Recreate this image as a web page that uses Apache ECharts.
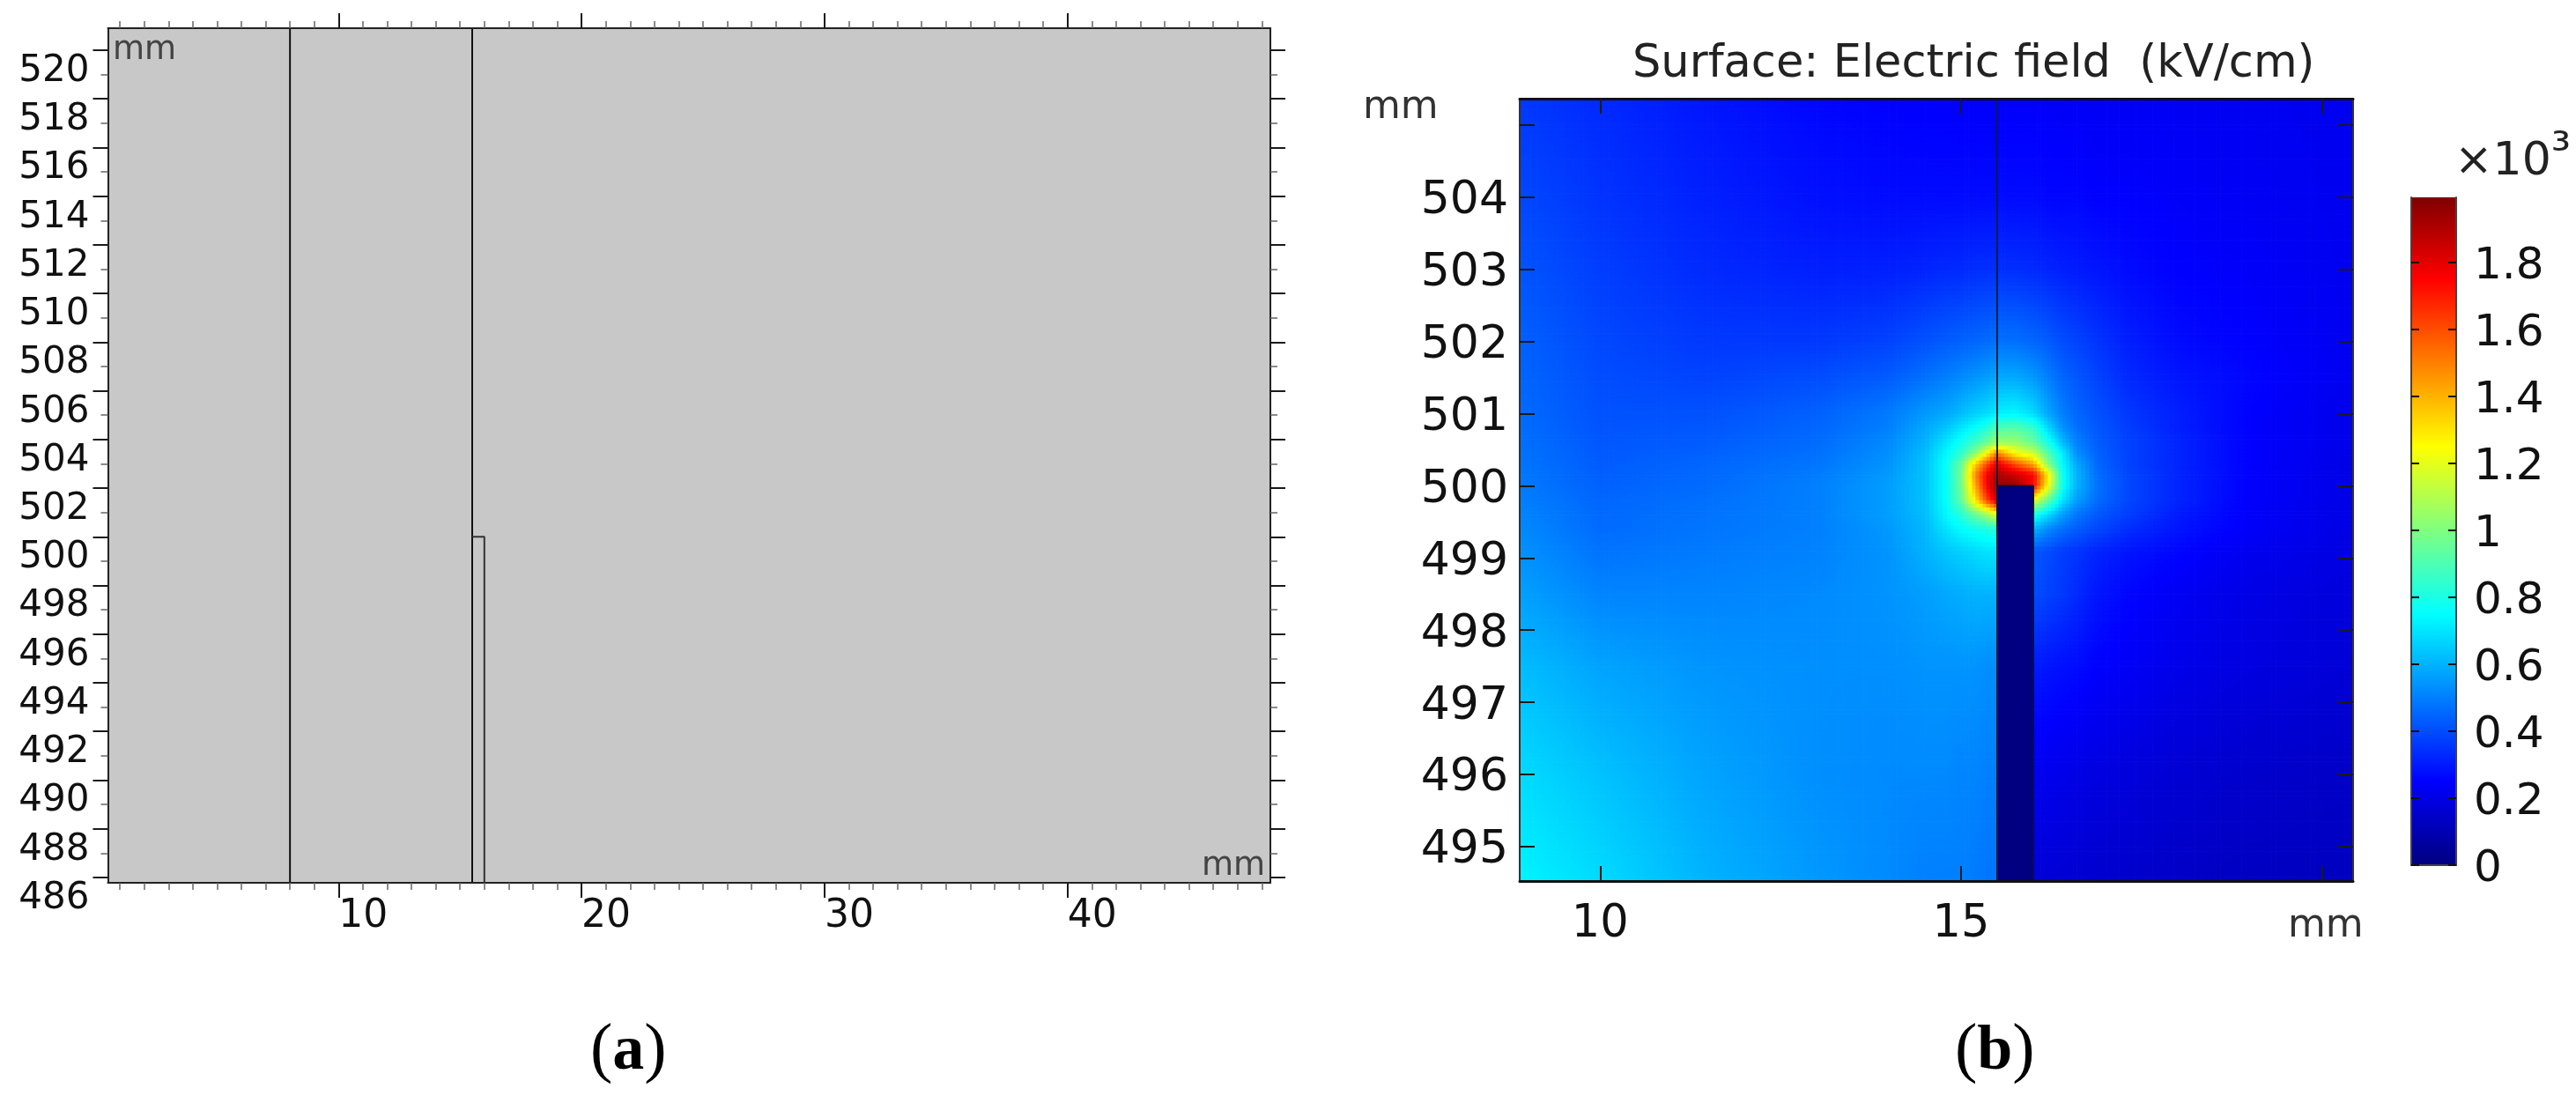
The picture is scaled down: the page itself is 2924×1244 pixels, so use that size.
<!DOCTYPE html>
<html><head><meta charset="utf-8">
<style>html,body{margin:0;padding:0;background:#fff}#c{width:2924px;height:1244px}</style>
<script src="https://cdn.jsdelivr.net/npm/echarts@6/dist/echarts.min.js"></script>
</head><body><div id="c"></div>
<script>
// ---------- data ----------
const aXRange = [0.507, 48.35];
const aYRange = [485.78, 520.905];
const aXMajor = [10, 20, 30, 40];
const aXMinor = [1,2,3,4,5,6,7,8,9,11,12,13,14,15,16,17,18,19,21,22,23,24,25,26,27,28,29,31,32,33,34,35,36,37,38,39,41,42,43,44,45,46,47,48];
const aYMajor = [486,488,490,492,494,496,498,500,502,504,506,508,510,512,514,516,518,520];
const aYMinor = [487,489,491,493,495,497,499,501,503,505,507,509,511,513,515,517,519];
const aLineOuter = [[8,485.78],[8,520.905]];
const aLineInner = [[15.5,485.78],[15.5,520.905]];
const aPinOutline = [[15.5,500],[16,500],[16,485.78]];

const bXRange = [8.886, 20.43];
const bYRange = [494.52, 505.368];
const bXTicks = [10, 15, 20];
const bXLabels = [10, 15];
const bYTicks = [495,496,497,498,499,500,501,502,503,504,505];
const bYLabels = [495,496,497,498,499,500,501,502,503,504];
const bWire = [[15.5,494.52],[15.5,505.368]];
const bPin = [[15.5,494.52],[15.5,500],[16,500],[16,494.52]];

// electric field (x10^3 kV/cm), read node by node off the surface plot
const fieldX = [8.886,10,11.5,13,14,14.5,14.8,15,15.2,15.35,15.5,15.75,16,16.2,16.4,16.6,16.9,17.3,18,19,20.43];
const fieldY = [505.368,504,503,502,501.5,501,500.8,500.6,500.45,500.3,500.15,500,499.8,499.6,499.4,499.1,498.5,497.5,496,494.52];
const fieldRows = [
[.36,.33,.29,.26,.25,.245,.245,.24,.24,.24,.24,.24,.24,.24,.235,.235,.23,.23,.23,.225,.22],
[.39,.35,.31,.28,.27,.27,.27,.27,.27,.27,.27,.27,.27,.26,.26,.26,.25,.25,.24,.23,.22],
[.415,.37,.33,.31,.31,.32,.33,.33,.34,.34,.34,.34,.33,.32,.31,.3,.29,.27,.25,.24,.22],
[.44,.39,.36,.36,.38,.41,.43,.44,.45,.46,.47,.47,.45,.43,.4,.38,.35,.31,.27,.25,.22],
[.45,.40,.38,.4,.43,.47,.5,.52,.54,.56,.58,.58,.55,.5,.45,.42,.38,.33,.29,.26,.22],
[.46,.41,.41,.44,.49,.55,.58,.62,.66,.68,.72,.74,.68,.58,.5,.45,.41,.36,.31,.25,.21],
[.465,.415,.42,.45,.5,.58,.64,.7,.76,.82,.9,.92,.85,.68,.54,.47,.42,.37,.31,.25,.21],
[.47,.42,.43,.46,.52,.6,.7,.78,.87,.95,1.05,1.05,.95,.8,.62,.5,.43,.38,.32,.25,.21],
[.475,.425,.44,.47,.53,.62,.74,.84,1.02,1.25,1.5,1.25,1.15,.92,.72,.53,.44,.38,.32,.25,.2],
[.48,.43,.45,.48,.54,.63,.76,.95,1.35,1.6,1.8,1.6,1.42,1.02,.75,.58,.45,.38,.32,.25,.2],
[.485,.435,.455,.49,.55,.63,.76,.97,1.48,1.75,1.92,1.85,1.75,1.3,.78,.6,.46,.39,.32,.25,.2],
[.49,.44,.46,.5,.56,.63,.76,.97,1.42,1.75,1.95,1.95,1.75,1.25,.78,.6,.47,.39,.32,.245,.2],
[.5,.45,.47,.5,.56,.63,.76,.94,1.3,1.6,1.85,1.5,1.2,.95,.7,.56,.46,.39,.32,.245,.2],
[.51,.455,.475,.5,.56,.62,.74,.82,.95,1.05,1.2,1.0,.8,.68,.56,.48,.42,.37,.3,.24,.2],
[.52,.46,.48,.5,.55,.61,.7,.75,.78,.8,.82,.7,.6,.52,.47,.43,.39,.34,.29,.24,.195],
[.535,.475,.49,.505,.54,.6,.64,.66,.68,.7,.7,.55,.42,.4,.37,.35,.32,.29,.26,.22,.19],
[.565,.51,.51,.52,.54,.56,.58,.59,.6,.6,.6,.5,.4,.38,.36,.33,.29,.26,.23,.2,.18],
[.62,.57,.54,.53,.53,.54,.54,.54,.54,.53,.53,.4,.3,.29,.28,.27,.25,.235,.21,.19,.17],
[.68,.63,.57,.53,.52,.52,.52,.51,.51,.5,.5,.3,.22,.215,.21,.2,.19,.18,.165,.15,.14],
[.73,.68,.6,.55,.52,.5,.5,.5,.49,.48,.48,.3,.17,.17,.165,.16,.155,.15,.14,.13,.125]
];

const barMax = 1.995;
const barTicks = [0,0.2,0.4,0.6,0.8,1,1.2,1.4,1.6,1.8];
const jetValues = [0,0.25,0.75,1.25,1.75,2];
const jetColors = [[0,0,128],[0,0,255],[0,255,255],[255,255,0],[255,0,0],[128,0,0]];

// ---------- helpers ----------
const DEJAVU = '"DejaVu Sans"';
const INK = '#1a1a1a';
function jet(v){
  v = Math.max(0, Math.min(2, v));
  let i = 0;
  while (i < jetValues.length-2 && v > jetValues[i+1]) i++;
  const t = (v-jetValues[i])/(jetValues[i+1]-jetValues[i]);
  const a = jetColors[i], b = jetColors[i+1];
  return 'rgb('+Math.round(a[0]+(b[0]-a[0])*t)+','+Math.round(a[1]+(b[1]-a[1])*t)+','+Math.round(a[2]+(b[2]-a[2])*t)+')';
}
function fieldCells(){
  const out = [];
  for (let r=0;r<fieldY.length-1;r++) for (let c=0;c<fieldX.length-1;c++)
    out.push([fieldX[c],fieldX[c+1],fieldY[r],fieldY[r+1],fieldRows[r][c],fieldRows[r][c+1],fieldRows[r+1][c],fieldRows[r+1][c+1]]);
  return out;
}
function renderCell(params, api){
  const p0 = api.coord([api.value(0),api.value(2)]);
  const p1 = api.coord([api.value(1),api.value(3)]);
  const v00=api.value(4), v10=api.value(5), v01=api.value(6), v11=api.value(7);
  const w=p1[0]-p0[0], h=p1[1]-p0[1];
  const nx=Math.max(1,Math.ceil(w/5)), ny=Math.max(1,Math.ceil(h/5));
  const children=[];
  for(let j=0;j<ny;j++) for(let i=0;i<nx;i++){
    const s=(i+.5)/nx, t=(j+.5)/ny;
    const v=v00*(1-s)*(1-t)+v10*s*(1-t)+v01*(1-s)*t+v11*s*t;
    children.push({type:'rect',silent:true,
      shape:{x:p0[0]+w*i/nx,y:p0[1]+h*j/ny,width:w/nx+.7,height:h/ny+.7},
      style:{fill:jet(v),stroke:null}});
  }
  return {type:'group',children};
}
const axisLine = {show:true,onZero:false,lineStyle:{color:'#222',width:2}};
function numAxis(kind, extra){
  const o = {type:'value',scale:true,splitLine:{show:false},animation:false,z:10};
  return Object.assign(o, extra);
}
function majorTicks(values, len, inside){
  return {show:true,inside:!!inside,length:len,customValues:values,lineStyle:{color:'#1a1a1a',width:2}};
}
function minorTicks(values){
  return {show:true,length:8,customValues:values,lineStyle:{color:'#666',width:1.5}};
}
const noLabel = {show:false};
function label(text,left,top,size,color){
  return {text,left,top,padding:0,textStyle:{fontFamily:DEJAVU,fontSize:size,fontWeight:'normal',color:color||INK}};
}
function part(letter,left){
  return {text:'{r|(}{b|'+letter+'}{r|)}',left,top:1156,padding:0,textStyle:{rich:{
    r:{fontFamily:'"Liberation Serif"',fontSize:76,fontWeight:'normal',color:'#000'},
    b:{fontFamily:'"Liberation Serif"',fontSize:72,fontWeight:'bold',color:'#000'}}}};
}

const A = {left:122.5,top:32,width:1319.5,height:970};
const B = {left:1725,top:112,width:946,height:888};
const C = {left:2737,top:224,width:51,height:757.7};

const option = {
  animation:false,
  backgroundColor:'#fff',
  title:[
    label('mm',128,39,37,'#444'),
    label('mm',1364,965,37,'#444'),
    label('Surface: Electric field  (kV/cm)',1853,48,51,'#222'),
    label('mm',1547,101,44,'#333'),
    label('mm',2597,1030,44,'#333'),
    {text:'{a|×10}{s|³}',left:2786,top:146,padding:0,textStyle:{rich:{
      a:{fontFamily:DEJAVU,fontSize:52,fontWeight:'normal',color:'#222'},
      s:{fontFamily:DEJAVU,fontSize:56,fontWeight:'normal',color:'#222',padding:[0,0,20,0]}}}},
    part('a',670),
    part('b',2219)
  ],
  grid:[
    Object.assign({show:true,backgroundColor:'#c8c8c8',borderWidth:0},A),
    Object.assign({show:false},A),
    Object.assign({show:false},B),
    Object.assign({show:false},C)
  ],
  xAxis:[
    numAxis('x',{gridIndex:0,position:'bottom',min:aXRange[0],max:aXRange[1],axisLine,axisTick:majorTicks(aXMajor,17),
      axisLabel:{show:true,customValues:aXMajor,align:'left',margin:17,fontFamily:DEJAVU,fontSize:44,color:'#111'}}),
    numAxis('x',{gridIndex:0,position:'top',min:aXRange[0],max:aXRange[1],axisLine,axisTick:majorTicks(aXMajor,17),axisLabel:noLabel}),
    numAxis('x',{gridIndex:1,position:'bottom',min:aXRange[0],max:aXRange[1],axisLine:{show:false},axisTick:minorTicks(aXMinor),axisLabel:noLabel}),
    numAxis('x',{gridIndex:1,position:'top',min:aXRange[0],max:aXRange[1],axisLine:{show:false},axisTick:minorTicks(aXMinor),axisLabel:noLabel}),
    numAxis('x',{gridIndex:2,position:'bottom',min:bXRange[0],max:bXRange[1],axisLine:{show:true,onZero:false,lineStyle:{color:'#111',width:3}},axisTick:majorTicks(bXTicks,17,true),
      axisLabel:{show:true,customValues:bXLabels,margin:24,fontFamily:DEJAVU,fontSize:51,color:'#111'}}),
    numAxis('x',{gridIndex:2,position:'top',min:bXRange[0],max:bXRange[1],axisLine:{show:true,onZero:false,lineStyle:{color:'#111',width:3}},axisTick:majorTicks(bXTicks,17,true),axisLabel:noLabel}),
    {type:'category',gridIndex:3,data:['E'],axisLine:{show:true,onZero:false,lineStyle:{color:'#444',width:2}},axisTick:{show:false},axisLabel:noLabel,z:10}
  ],
  yAxis:[
    numAxis('y',{gridIndex:0,position:'left',min:aYRange[0],max:aYRange[1],axisLine,axisTick:majorTicks(aYMajor,17),
      axisLabel:{show:true,customValues:aYMajor,verticalAlign:'top',lineHeight:48,margin:21,fontFamily:DEJAVU,fontSize:42,color:'#111'}}),
    numAxis('y',{gridIndex:0,position:'right',min:aYRange[0],max:aYRange[1],axisLine,axisTick:majorTicks(aYMajor,17),axisLabel:noLabel}),
    numAxis('y',{gridIndex:1,position:'left',min:aYRange[0],max:aYRange[1],axisLine:{show:false},axisTick:minorTicks(aYMinor),axisLabel:noLabel}),
    numAxis('y',{gridIndex:1,position:'right',min:aYRange[0],max:aYRange[1],axisLine:{show:false},axisTick:minorTicks(aYMinor),axisLabel:noLabel}),
    numAxis('y',{gridIndex:2,position:'left',min:bYRange[0],max:bYRange[1],axisLine:{show:true,onZero:false,lineStyle:{color:'#333',width:2}},axisTick:majorTicks(bYTicks,17,true),
      axisLabel:{show:true,customValues:bYLabels,margin:13,verticalAlign:'top',lineHeight:10,fontFamily:DEJAVU,fontSize:52,color:'#111'}}),
    numAxis('y',{gridIndex:2,position:'right',min:bYRange[0],max:bYRange[1],axisLine:{show:true,onZero:false,lineStyle:{color:'#333',width:2}},axisTick:majorTicks(bYTicks,17,true),axisLabel:noLabel}),
    numAxis('y',{gridIndex:3,position:'left',min:0,max:barMax,axisLine:{show:true,onZero:false,lineStyle:{color:'#444',width:2}},
      axisTick:{show:true,inside:true,length:9,customValues:barTicks,lineStyle:{color:'#111',width:2}},axisLabel:noLabel}),
    numAxis('y',{gridIndex:3,position:'right',min:0,max:barMax,axisLine:{show:true,onZero:false,lineStyle:{color:'#444',width:2}},
      axisTick:{show:true,inside:true,length:9,customValues:barTicks,lineStyle:{color:'#111',width:2}},
      axisLabel:{show:true,customValues:barTicks,margin:20,verticalAlign:'top',lineHeight:10,fontFamily:DEJAVU,fontSize:50,color:'#111'}})
  ],
  series:[
    {type:'line',xAxisIndex:0,yAxisIndex:0,data:aLineOuter,symbol:'none',silent:true,lineStyle:{color:'#111',width:2}},
    {type:'line',xAxisIndex:0,yAxisIndex:0,data:aLineInner,symbol:'none',silent:true,lineStyle:{color:'#111',width:2}},
    {type:'line',xAxisIndex:0,yAxisIndex:0,data:aPinOutline,symbol:'none',silent:true,lineStyle:{color:'#333',width:2}},
    {type:'custom',xAxisIndex:4,yAxisIndex:4,data:fieldCells(),renderItem:renderCell,encode:{x:[0,1],y:[2,3]},silent:true,z:2},
    {type:'line',xAxisIndex:4,yAxisIndex:4,data:bPin,symbol:'none',silent:true,z:3,lineStyle:{color:'#061040',width:2},areaStyle:{origin:'start',color:'#000080',opacity:1}},
    {type:'line',xAxisIndex:4,yAxisIndex:4,data:bWire,symbol:'none',silent:true,z:4,lineStyle:{color:'#0a1f33',width:2}},
    {type:'bar',xAxisIndex:6,yAxisIndex:6,data:[barMax],barWidth:'100%',silent:true,
      itemStyle:{color:new echarts.graphic.LinearGradient(0,1,0,0,jetValues.map((v,i)=>({offset:Math.min(1,v/barMax),color:'rgb('+jetColors[i].join(',')+')'})))}}
  ]
};
const chart = echarts.init(document.getElementById('c'),null,{renderer:'canvas'});
chart.setOption(option);
</script></body></html>
